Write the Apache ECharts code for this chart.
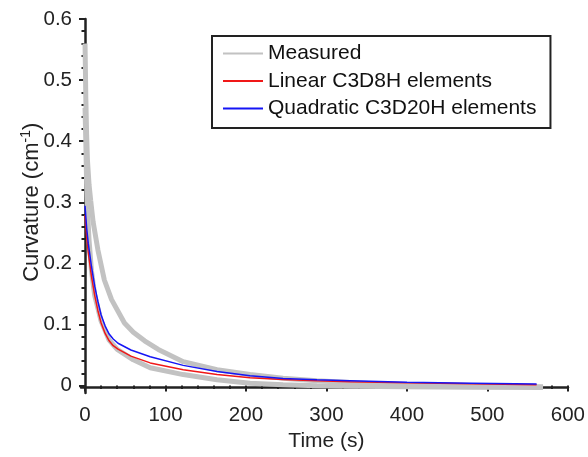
<!DOCTYPE html>
<html>
<head>
<meta charset="utf-8">
<script src="https://cdn.jsdelivr.net/npm/echarts@6/dist/echarts.min.js"></script>
<style>
html,body{margin:0;padding:0;background:#fff;}
#c{width:588px;height:457px;}
</style>
</head>
<body>
<div id="c"></div>
<script>
// Measured curve A (upper gray): [time s, curvature cm^-1]
var measuredA = [[0,0.56],[1,0.47],[2,0.41],[3,0.37],[5,0.33],[7,0.305],[10,0.27],[16,0.224],[24,0.175],[33,0.143],[49,0.105],[60,0.09],[74,0.076],[91,0.062],[122,0.042],[164,0.029],[205,0.021],[246,0.015],[288,0.011],[329,0.008],[380,0.005],[430,0.0035],[500,0.002],[569,0.001]];
// Measured curve B (lower gray)
var measuredB = [[0,0.455],[1,0.40],[2,0.33],[3,0.29],[5,0.24],[8,0.19],[12,0.15],[20,0.108],[30,0.077],[40,0.062],[60,0.045],[81,0.032],[122,0.021],[164,0.0125],[205,0.007],[246,0.0045],[288,0.003],[330,0.002],[400,0.001],[480,0.0005],[569,0.0]];
// Linear C3D8H elements (red)
var linearC3D8H = [[0,0.281],[2,0.245],[4,0.22],[8,0.181],[12,0.15],[16,0.125],[20,0.105],[25,0.088],[30,0.076],[35,0.068],[41,0.0625],[57,0.051],[81,0.040],[122,0.029],[164,0.021],[205,0.016],[246,0.013],[288,0.011],[329,0.0093],[400,0.0075],[480,0.006],[561,0.0045]];
// Quadratic C3D20H elements (blue)
var quadraticC3D20H = [[0,0.296],[2,0.26],[4,0.235],[8,0.197],[12,0.165],[16,0.14],[20,0.118],[25,0.1],[30,0.087],[35,0.079],[41,0.072],[57,0.061],[81,0.05],[122,0.036],[164,0.026],[205,0.019],[246,0.0147],[288,0.0125],[329,0.011],[400,0.0085],[480,0.0068],[561,0.0055]];
var seriesNames = ['Measured','Linear C3D8H elements','Quadratic C3D20H elements'];
var xTickMin = 0, xTickMax = 600, xTickStep = 100;
var yTickMin = 0, yTickMax = 0.6, yTickStep = 0.1;

var FONT = '"Liberation Sans", Arial, Helvetica, sans-serif';
var AX = '#222';
var chart = echarts.init(document.getElementById('c'), null, {renderer:'canvas'});
chart.setOption({
  animation:false,
  backgroundColor:'#fff',
  textStyle:{fontFamily:FONT},
  grid:[
    {left:81, right:20, top:19, bottom:64, containLabel:false},
    {left:85, right:20, top:19, bottom:69.5, containLabel:false}
  ],
  xAxis:[
    {type:'value', gridIndex:0, min:-5, max:600,
     axisLine:{show:true, lineStyle:{color:AX, width:2.5}},
     axisTick:{show:false}, axisLabel:{show:false}, splitLine:{show:false}},
    {type:'value', gridIndex:1, min:xTickMin, max:xTickMax, interval:xTickStep, offset:5.5,
     axisLine:{show:false},
     axisTick:{show:true, inside:false, length:6, lineStyle:{color:AX, width:2}},
     minorTick:{show:true, splitNumber:5, length:3.5, lineStyle:{color:AX, width:2}},
     axisLabel:{show:true, color:'#222', fontSize:20.5, fontFamily:FONT, margin:14},
     splitLine:{show:false},
     name:'Time (s)', nameLocation:'middle', nameGap:39,
     nameTextStyle:{color:'#222', fontSize:21, fontFamily:FONT}}
  ],
  yAxis:[
    {type:'value', gridIndex:0, min:-0.009, max:0.6,
     axisLine:{show:true, lineStyle:{color:AX, width:2.5}},
     axisTick:{show:false}, axisLabel:{show:false}, splitLine:{show:false}},
    {type:'value', gridIndex:1, min:yTickMin, max:yTickMax, interval:yTickStep, offset:4,
     axisLine:{show:false},
     axisTick:{show:true, inside:false, length:6, lineStyle:{color:AX, width:2}},
     minorTick:{show:true, splitNumber:5, length:3.5, lineStyle:{color:AX, width:2}},
     axisLabel:{show:true, color:'#222', fontSize:20.5, fontFamily:FONT, margin:9,
       formatter:function(v){return v===0?'0':v.toFixed(1);}},
     splitLine:{show:false},
     name:'{a|Curvature (cm}{s|-1}{a|)}', nameLocation:'middle', nameGap:37, nameRotate:90,
     nameMoveOverlap:false,
     nameTextStyle:{color:'#222', fontFamily:FONT,
       rich:{a:{fontSize:22, fontFamily:FONT, color:'#222', lineHeight:25},
             s:{fontSize:14, fontFamily:FONT, color:'#222', verticalAlign:'top', lineHeight:25}}}}
  ],
  legend:{
    show:true, orient:'vertical', left:212, top:36,
    data:seriesNames,
    padding:[7,14,9,10],
    borderColor:'#222', borderWidth:2, backgroundColor:'#fff',
    itemWidth:40, itemHeight:14, itemGap:6.5,
    itemStyle:{color:'rgba(0,0,0,0)', borderWidth:0, opacity:0},
    textStyle:{fontSize:21, color:'#111', fontFamily:FONT, lineHeight:21}
  },
  series:[
    {name:seriesNames[0], type:'line', xAxisIndex:0, yAxisIndex:0, data:measuredA, symbol:'none',
     lineStyle:{color:'#c2c2c2', width:5}, itemStyle:{color:'#c2c2c2'}, clip:false, z:1},
    {name:seriesNames[0], type:'line', xAxisIndex:0, yAxisIndex:0, data:measuredB, symbol:'none',
     lineStyle:{color:'#c2c2c2', width:5}, itemStyle:{color:'#c2c2c2'}, clip:false, z:1},
    {name:seriesNames[1], type:'line', xAxisIndex:0, yAxisIndex:0, data:linearC3D8H, symbol:'none',
     lineStyle:{color:'#f01818', width:1.5}, itemStyle:{color:'#f01818'}, z:3},
    {name:seriesNames[2], type:'line', xAxisIndex:0, yAxisIndex:0, data:quadraticC3D20H, symbol:'none',
     lineStyle:{color:'#1515f5', width:1.5}, itemStyle:{color:'#1515f5'}, z:4}
  ]
});
</script>
</body>
</html>
